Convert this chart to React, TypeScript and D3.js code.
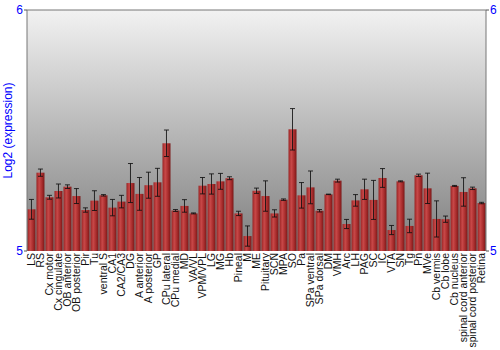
import React from "react";
import * as d3 from "d3";

const categories = ["LS","RS","Cx motor","Cx cingulate","OB anterior","OB posterior","Pir","Tu","ventral S","CA1","CA2/CA3","DG","A anterior","A posterior","GP","CPu lateral","CPu medial","MD","VA/VL","VPM/VPL","LG","MG","Hb","Pineal","M","ME","Pituitary","SCN","MPA","SO","Pa","SPa ventral","SPa dorsal","DM","VMH","Arc","LH","PAG","SC","IC","VTA","SN","Tg","Pn","MVe","Cb vermis","Cb lobe","Cb nucleus","spinal cord anterior","spinal cord posterior","Retina"];
const values = [5.173,5.325,5.223,5.249,5.267,5.228,5.170,5.209,5.231,5.180,5.205,5.282,5.237,5.273,5.285,5.447,5.168,5.187,5.156,5.271,5.278,5.289,5.302,5.156,5.062,5.250,5.228,5.156,5.213,5.505,5.231,5.264,5.167,5.235,5.292,5.112,5.210,5.256,5.212,5.303,5.087,5.289,5.104,5.314,5.260,5.133,5.132,5.270,5.245,5.260,5.199];
const errors = [0.041,0.015,0.008,0.029,0.0075,0.031,0.009,0.041,0.003,0.034,0.026,0.081,0.068,0.054,0.058,0.055,0.004,0.026,0.002,0.034,0.042,0.033,0.006,0.009,0.042,0.011,0.063,0.015,0.003,0.086,0.053,0.068,0.005,0.001,0.006,0.019,0.024,0.042,0.081,0.039,0.019,0.002,0.028,0.005,0.063,0.075,0.013,0.002,0.059,0.005,0.003];
const yTicks = [5, 6];
const yTitle = "Log2 (expression)";

export default function App() {
  const W = 500, H = 350;
  const left = 27, right = 486, top = 10, bottom = 251;
  const x = d3.scaleBand<string>().domain(categories).range([left, right]).paddingInner(0.11).paddingOuter(0.05);
  const y = d3.scaleLinear().domain([5, 6]).range([bottom, top]);
  const bw = x.bandwidth();
  const font = "'Liberation Sans', Arial, sans-serif";
  return (
    <svg width={W} height={H} style={{ position: "absolute", left: 0, top: 0 }} fontFamily={font}>
      <defs>
        <linearGradient id="bg" x1="0" y1="0" x2="0" y2="1">
          <stop offset="0" stopColor="#f2f2f2" />
          <stop offset="1" stopColor="#7e7e7e" />
        </linearGradient>
        <linearGradient id="bar" x1="0" y1="0" x2="1" y2="0">
          <stop offset="0" stopColor="#9a2424" />
          <stop offset="0.35" stopColor="#c84848" />
          <stop offset="0.7" stopColor="#a82c2c" />
          <stop offset="1" stopColor="#7a1818" />
        </linearGradient>
      </defs>
      <rect x={left} y={top} width={right - left} height={bottom - top} fill="url(#bg)" />
      {categories.map((c, i) => {
        const bx = x(c)!;
        const v = values[i];
        const e = errors[i];
        const cx = bx + bw / 2;
        const y1 = y(v + e), y2 = y(v - e);
        return (
          <g key={c}>
            <rect x={bx} y={y(v)} width={bw} height={bottom - y(v)} fill="url(#bar)" />
            <g stroke="#111" strokeOpacity={0.85} strokeWidth={1}>
              <line x1={cx} x2={cx} y1={y1} y2={y2} />
              <line x1={cx - 2.5} x2={cx + 2.5} y1={y1} y2={y1} />
              <line x1={cx - 2.5} x2={cx + 2.5} y1={y2} y2={y2} />
            </g>
            <text transform={`translate(${cx},${bottom + 2}) rotate(-90)`} textAnchor="end" dy="0.36em" fontSize={10.5} fill="#111">{c}</text>
          </g>
        );
      })}
      <line x1={left} x2={right} y1={top} y2={top} stroke="#777" />
      <line x1={left} x2={left} y1={top} y2={bottom} stroke="#777" />
      <line x1={right} x2={right} y1={top} y2={bottom} stroke="#777" />
      {yTicks.map(t => (
        <g key={t}>
          <line x1={left - 3} x2={left} y1={y(t)} y2={y(t)} stroke="#555" />
          <line x1={right} x2={right + 3} y1={y(t)} y2={y(t)} stroke="#555" />
          <text x={left - 4} y={y(t)} dy="0.35em" textAnchor="end" fontSize={12} fill="#0000ff">{t}</text>
          <text x={right + 4} y={y(t)} dy="0.35em" textAnchor="start" fontSize={12} fill="#0000ff">{t}</text>
        </g>
      ))}
      <text transform={`translate(12,${(top + bottom) / 2}) rotate(-90)`} textAnchor="middle" fontSize={12} fill="#0000ff">{yTitle}</text>
    </svg>
  );
}
